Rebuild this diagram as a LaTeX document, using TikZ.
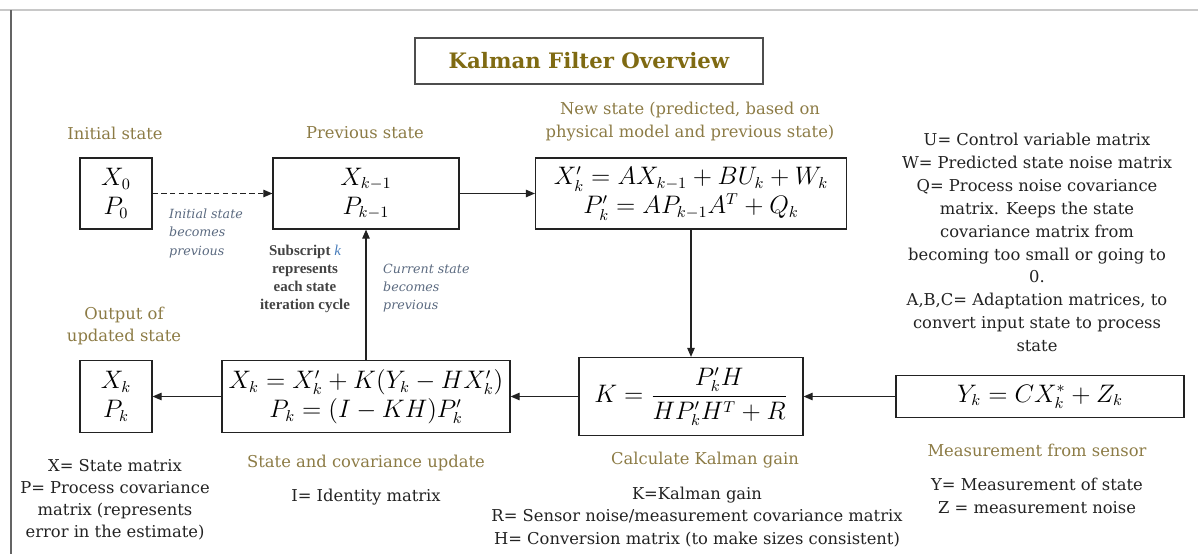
\documentclass[tikz,border=0pt]{standalone}
\usepackage{amsmath,amssymb}
\usepackage{fontspec}
\setmainfont{DejaVu Serif}
\newfontfamily\notefont{Liberation Serif}
\usetikzlibrary{arrows.meta, positioning, calc}
\definecolor{dkgold}{HTML}{7F6A12}
\definecolor{gold}{HTML}{8C7B45}
\definecolor{slate}{HTML}{5B6A80}
\definecolor{kblue}{HTML}{4A7EBB}
\definecolor{ink}{HTML}{222222}
\definecolor{frame}{HTML}{C8C8C8}

\begin{document}
\begin{tikzpicture}[
  >={Triangle[length=1.8mm, width=1.5mm]},
  box/.style={draw=ink, line width=0.7pt, inner sep=0pt, align=center,
    font=\fontsize{13.5}{16.5}\selectfont},
  lbl/.style={text=gold, align=center, font=\fontsize{9.3}{13}\selectfont},
  note/.style={text=ink, align=center, font=\fontsize{9.3}{13}\selectfont},
  aside/.style={text=slate, align=left, font=\fontsize{7.2}{10.4}\selectfont\itshape},
  flow/.style={->, line width=0.6pt, ink},
]

\useasboundingbox (0,0) rectangle (23.98,-11.08);

% Page frame
\draw[frame, line width=0.8pt] (0,-0.2) -- (23.96,-0.2);
\draw[ink!70, line width=0.8pt] (0.22,-0.2) -- (0.22,-11.08);

% Title
\node[draw=ink!80, line width=0.7pt, minimum width=6.96cm, minimum height=0.92cm,
  text=dkgold, font=\fontsize{12.1}{15}\selectfont\bfseries] (title) at (11.78,-1.22)
  {Kalman Filter Overview};

% === Top row ===
\node[box, minimum width=1.44cm, minimum height=1.42cm] (x0) at (2.32,-3.87)
  {$X_0$\\$P_0$};
\node[box, minimum width=3.72cm, minimum height=1.42cm] (prev) at (7.32,-3.87)
  {$X_{k-1}$\\$P_{k-1}$};
\node[box, minimum width=6.22cm, minimum height=1.42cm] (new) at (13.82,-3.87)
  {$X_k' = AX_{k-1} + BU_k + W_k$\\$P_k' = AP_{k-1}A^T + Q_k$};

\node[lbl] (x0lbl) at (2.30,-2.66) {Initial state};
\node[lbl] (prevlbl) at (7.30,-2.66) {Previous state};
\node[lbl] (newlbl) at (13.80,-2.43)
  {New state\ (predicted, based on\\physical model and previous state)};

% === Bottom row ===
\node[box, minimum width=1.44cm, minimum height=1.44cm] (out) at (2.32,-7.93)
  {$X_k$\\$P_k$};
\node[box, minimum width=5.76cm, minimum height=1.44cm] (upd) at (7.32,-7.93)
  {$X_k = X_k' + K(Y_k - HX_k')$\\$P_k = (I - KH)P_k'$};
\node[box, minimum width=4.48cm, minimum height=1.56cm] (gain) at (13.82,-7.93)
  {$K = \dfrac{P_k'H}{HP_k'H^T + R}$};
\node[box, minimum width=5.76cm, minimum height=0.84cm] (meas) at (20.80,-7.93)
  {$Y_k = CX_k^* + Z_k$};

\node[lbl] (outlbl) at (2.48,-6.52) {Output of\\updated state};
\node[lbl] (updlbl) at (7.32,-9.26) {State and covariance update};
\node[lbl] (gainlbl) at (14.10,-9.20) {Calculate Kalman gain};
\node[lbl] (measlbl) at (20.74,-9.00) {Measurement from sensor};

% === Connectors ===
\draw[flow, dash pattern=on 3pt off 2pt] (x0) -- (prev);
\draw[flow] (prev) -- (new);
\draw[flow] (new) -- (gain);
\draw[flow] (meas) -- (gain);
\draw[flow] (gain) -- (upd);
\draw[flow] (upd) -- (out);
\draw[flow] (upd) -- (prev);

% === Side notes ===
\node[aside, anchor=west] (initnote) at (3.26,-4.67)
  {Initial state\\becomes\\previous};
\node[aside, anchor=west] (curnote) at (7.54,-5.76)
  {Current state\\becomes\\previous};
\node[text=ink!85, align=center, font=\notefont\fontsize{8.5}{10.4}\selectfont\bfseries]
  (subnote) at (6.10,-5.58)
  {Subscript \textcolor{kblue}{\normalfont\notefont\itshape k}\\represents\\each state\\iteration cycle};

% === Legends ===
\node[note] (legU) at (20.74,-4.85)
  {U= Control variable matrix\\W= Predicted state noise matrix\\
   Q= Process noise covariance\\matrix. Keeps the state\\
   covariance matrix from\\becoming too small or going to\\0.\\
   A,B,C= Adaptation matrices, to\\convert input state to process\\state};
\node[note, font=\fontsize{9.3}{12.5}\selectfont] (legX) at (2.30,-10.00)
  {X= State matrix\\P= Process covariance\\matrix (represents\\error in the estimate)};
\node[note] (legI) at (7.32,-9.94) {I= Identity matrix};
\node[note] (legK) at (13.94,-10.34)
  {K=Kalman gain\\R= Sensor noise/measurement covariance matrix\\
   H= Conversion matrix (to make sizes consistent)};
\node[note] (legY) at (20.74,-9.92)
  {Y= Measurement of state\\Z = measurement noise};

\end{tikzpicture}
\end{document}
